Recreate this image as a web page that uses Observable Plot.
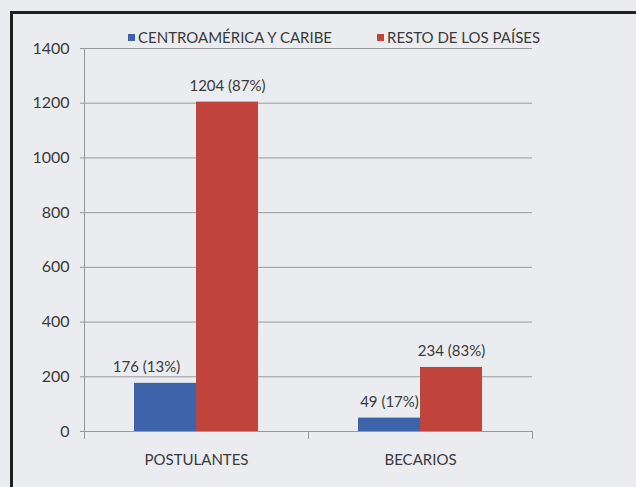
<!DOCTYPE html>
<html><head><meta charset="utf-8">
<script src="https://cdn.jsdelivr.net/npm/d3@7"></script>
<script src="https://cdn.jsdelivr.net/npm/@observablehq/plot@0.6"></script>
<style>
body{margin:0;background:#eaecef;font-family:Lato,"Open Sans",sans-serif;}
#wrap{position:relative;width:636px;height:487px;overflow:hidden;background:#eaecef;}
#frame{position:absolute;left:10px;top:11px;width:700px;height:600px;border-left:3px solid #1f1f1f;border-top:3px solid #1f1f1f;pointer-events:none;}
#chart{position:absolute;left:0;top:0;}
#legend{position:absolute;top:28px;left:128px;display:flex;font-size:15px;color:#3a3a3a;white-space:nowrap;}
.item{display:flex;align-items:center;}
.sw{width:7px;height:7px;margin-right:3px;}
</style></head>
<body>
<div id="wrap">
  <div id="chart"></div>
  <div id="legend"></div>
  <div id="frame"></div>
</div>
<script>
const categories = ["POSTULANTES", "BECARIOS"];
const series = ["CENTROAMÉRICA Y CARIBE", "RESTO DE LOS PAÍSES"];
const centroValues = [176, 49];
const restoValues = [1204, 234];
const centroPct = [13, 17];
const restoPct = [87, 83];
const yTicks = [0, 200, 400, 600, 800, 1000, 1200, 1400];
const colors = ["#3d63ab", "#c0443c"];

const rows = [];
categories.forEach((c, i) => {
  rows.push({cat: c, serie: series[0], value: centroValues[i], pct: centroPct[i]});
  rows.push({cat: c, serie: series[1], value: restoValues[i], pct: restoPct[i]});
});
const label = d => `${d.value} (${d.pct}%)`;
const shifted = d => d.cat === categories[0] && d.serie === series[0];

const gridColor = "#999999";
const textColor = "#3a3a3a";
const plot = Plot.plot({
  width: 636, height: 487,
  marginLeft: 83, marginRight: 104, marginTop: 48, marginBottom: 56,
  style: {background: "transparent", fontFamily: "Lato, 'Open Sans', sans-serif", fontSize: "15px", color: textColor},
  fx: {domain: categories, padding: 0, label: null},
  x: {domain: series, paddingInner: 0, paddingOuter: 0.78, axis: null},
  y: {domain: [0, 1400], label: null},
  color: {domain: series, range: colors},
  marks: [
    Plot.gridY(yTicks, {stroke: gridColor, strokeOpacity: 1}),
    Plot.axisY(yTicks, {tickSize: 4, tickPadding: 11, tickFormat: d => String(d), stroke: gridColor, fill: textColor, fontSize: 16, label: null}),
    Plot.frame({anchor: "left", facet: "super", stroke: gridColor}),
    Plot.barY(rows, {fx: "cat", x: "serie", y: "value", fill: "serie"}),
    Plot.text(rows.filter(d => !shifted(d)), {fx: "cat", x: "serie", y: "value", text: label, dy: -16, fill: textColor, fontSize: 15}),
    Plot.text(rows.filter(shifted), {fx: "cat", x: "serie", y: "value", text: label, dy: -16, dx: -19, fill: textColor, fontSize: 15}),
    Plot.axisFx({anchor: "bottom", tickSize: 0, tickPadding: 23, label: null, fill: textColor, fontSize: 15}),
    Plot.axisFx({anchor: "bottom", tickSize: 8, tickFormat: () => "", label: null, dx: -112, stroke: gridColor}),
    Plot.axisFx({anchor: "bottom", tickSize: 8, tickFormat: () => "", label: null, dx: 112, stroke: gridColor})
  ]
});
document.getElementById("chart").appendChild(plot);

const legend = document.getElementById("legend");
series.forEach((s, i) => {
  const it = document.createElement("div");
  it.className = "item";
  if (i > 0) it.style.marginLeft = "45px";
  const sw = document.createElement("span");
  sw.className = "sw";
  sw.style.background = colors[i];
  it.appendChild(sw);
  const t = document.createElement("span");
  t.textContent = s;
  it.appendChild(t);
  legend.appendChild(it);
});
</script>
</body></html>
